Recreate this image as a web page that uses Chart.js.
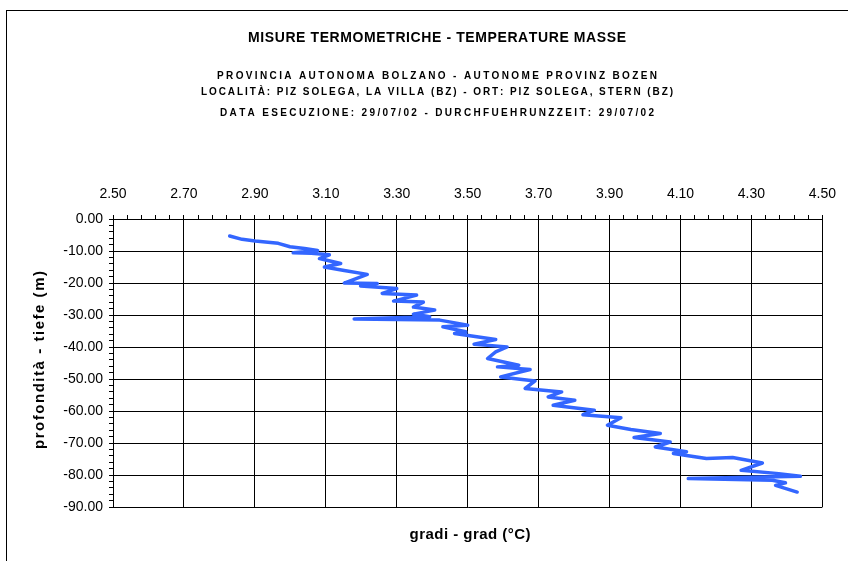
<!DOCTYPE html>
<html>
<head>
<meta charset="utf-8">
<script src="https://cdn.jsdelivr.net/npm/chart.js@4.4.1/dist/chart.umd.min.js"></script>
<style>
  html, body { margin: 0; padding: 0; background: #fff; }
  #wrap { position: relative; width: 848px; height: 561px; }
</style>
</head>
<body>
<div id="wrap"><canvas id="myChart" width="848" height="561"></canvas></div>
<script>
// profilo temperatura: profondità (m) e temperatura (°C)
const depths = [
  -5.32, -6.35, -6.88, -7.60, -8.67, -9.23, -9.86, -10.54, -10.73, -11.17,
  -12.36, -13.92, -15.02, -16.11, -17.30, -20.03, -20.18, -20.96, -21.75, -23.25,
  -23.78, -25.66, -25.97, -27.53, -28.47, -29.72, -30.51, -31.23, -31.60, -33.17,
  -33.70, -35.26, -35.76, -37.64, -39.11, -39.96, -41.52, -43.59, -45.68, -46.21,
  -47.03, -49.34, -50.59, -52.97, -54.04, -55.60, -56.63, -58.20, -59.76, -61.17,
  -62.11, -64.46, -65.80, -67.05, -68.30, -69.68, -71.25, -72.75, -73.31, -74.87,
  -74.56, -76.25, -78.54, -79.57, -80.41, -81.13, -81.66, -82.45, -83.23, -85.33
];
const temps = [
  2.829, 2.864, 2.901, 2.966, 2.999, 3.040, 3.077, 3.008, 3.059, 3.110,
  3.082, 3.142, 3.096, 3.152, 3.217, 3.152, 3.245, 3.198, 3.300, 3.259,
  3.356, 3.291, 3.375, 3.347, 3.407, 3.347, 3.393, 3.180, 3.421, 3.500,
  3.430, 3.495, 3.463, 3.579, 3.518, 3.611, 3.579, 3.556, 3.644, 3.584,
  3.676, 3.593, 3.690, 3.662, 3.765, 3.727, 3.802, 3.741, 3.857, 3.825,
  3.932, 3.894, 3.960, 4.043, 3.969, 4.071, 4.029, 4.117, 4.080, 4.173,
  4.247, 4.331, 4.271, 4.377, 4.438, 4.122, 4.359, 4.396, 4.368, 4.429
];

const xMin = 2.5, xMax = 4.5, xMajor = 0.2, xMinor = 0.04;
const yMin = -90, yMax = 0, yMajor = 10, yMinor = 2;

const titolo = 'MISURE TERMOMETRICHE - TEMPERATURE MASSE';
const righe = [
  'PROVINCIA AUTONOMA BOLZANO - AUTONOME PROVINZ BOZEN',
  'LOCALITÀ: PIZ SOLEGA, LA VILLA (BZ) - ORT: PIZ SOLEGA, STERN (BZ)',
  'DATA ESECUZIONE: 29/07/02 - DURCHFUEHRUNZZEIT: 29/07/02'
];
const titoloX = 'gradi - grad (°C)';
const titoloY = 'profondità - tiefe (m)';

const xTicks = [];
for (let i = 0; i <= Math.round((xMax - xMin) / xMinor); i++) xTicks.push(+(xMin + i * xMinor).toFixed(2));
const yTicks = [];
for (let i = 0; i <= Math.round((yMax - yMin) / yMinor); i++) yTicks.push(yMin + i * yMinor);

const isMajorX = v => Math.abs((v - xMin) / xMajor - Math.round((v - xMin) / xMajor)) < 1e-6;
const isMajorY = v => v % yMajor === 0;

const font = 'Liberation Sans, Arial, sans-serif';

// testo spaziato su una larghezza data
function spaced(ctx, text, cx, cy, f, width) {
  ctx.font = f;
  const chars = [...text];
  const nat = chars.reduce((s, c) => s + ctx.measureText(c).width, 0);
  const gap = (width - nat) / (chars.length - 1);
  let x = cx - width / 2;
  chars.forEach(c => {
    ctx.fillText(c, x, cy);
    x += ctx.measureText(c).width + gap;
  });
}

const decor = {
  id: 'decor',
  beforeDraw(chart) {
    const ctx = chart.ctx;
    ctx.save();
    ctx.fillStyle = '#fff';
    ctx.fillRect(0, 0, chart.width, chart.height);
    ctx.strokeStyle = '#000';
    ctx.lineWidth = 1;
    ctx.strokeRect(6.5, 10.5, 1000, 1000);
    ctx.restore();
  },
  afterDraw(chart) {
    const ctx = chart.ctx;
    ctx.save();
    ctx.fillStyle = '#000';
    ctx.textBaseline = 'middle';
    ctx.textAlign = 'left';
    spaced(ctx, titolo, 437, 38, 'bold 14px ' + font, 378);
    spaced(ctx, righe[0], 437, 76, 'bold 10px ' + font, 440);
    spaced(ctx, righe[1], 437, 92, 'bold 10px ' + font, 472);
    spaced(ctx, righe[2], 437, 113, 'bold 10px ' + font, 434);
    spaced(ctx, titoloX, 470, 535, 'bold 15px ' + font, 121);
    ctx.translate(40, 360);
    ctx.rotate(-Math.PI / 2);
    spaced(ctx, titoloY, 0, 0, 'bold 15px ' + font, 178);
    ctx.restore();
  }
};

const ctx = document.getElementById('myChart').getContext('2d');
new Chart(ctx, {
  type: 'scatter',
  data: {
    datasets: [{
      data: temps.map((t, i) => ({ x: t, y: depths[i] })),
      showLine: true,
      borderColor: '#3366ff',
      borderWidth: 3.5,
      borderJoinStyle: 'round',
      borderCapStyle: 'round',
      pointRadius: 0,
      tension: 0
    }]
  },
  options: {
    responsive: false,
    animation: false,
    layout: { padding: { left: 0, top: 0, right: 18, bottom: 54 } },
    plugins: { legend: { display: false }, tooltip: { enabled: false } },
    scales: {
      x: {
        type: 'linear',
        position: 'top',
        min: xMin,
        max: xMax,
        afterBuildTicks: axis => { axis.ticks = xTicks.map(v => ({ value: v })); },
        afterFit: axis => { axis.height = 219; },
        ticks: {
          autoSkip: false,
          maxRotation: 0,
          padding: 12,
          color: '#000',
          font: { family: font, size: 14 },
          callback: v => isMajorX(v) ? v.toFixed(2) : ''
        },
        grid: {
          color: c => isMajorX(c.tick.value) ? '#000' : 'rgba(0,0,0,0)',
          tickColor: '#000',
          tickLength: 4,
          lineWidth: 1
        },
        border: { color: '#000', width: 1 }
      },
      y: {
        type: 'linear',
        min: yMin,
        max: yMax,
        afterBuildTicks: axis => { axis.ticks = yTicks.map(v => ({ value: v })); },
        afterFit: axis => { axis.width = 113; },
        ticks: {
          autoSkip: false,
          padding: 6,
          color: '#000',
          font: { family: font, size: 14 },
          callback: v => isMajorY(v) ? v.toFixed(2) : ''
        },
        grid: {
          color: c => isMajorY(c.tick.value) ? '#000' : 'rgba(0,0,0,0)',
          tickColor: '#000',
          tickLength: 4,
          lineWidth: 1
        },
        border: { color: '#000', width: 1 }
      }
    }
  },
  plugins: [decor]
});
</script>
</body>
</html>
